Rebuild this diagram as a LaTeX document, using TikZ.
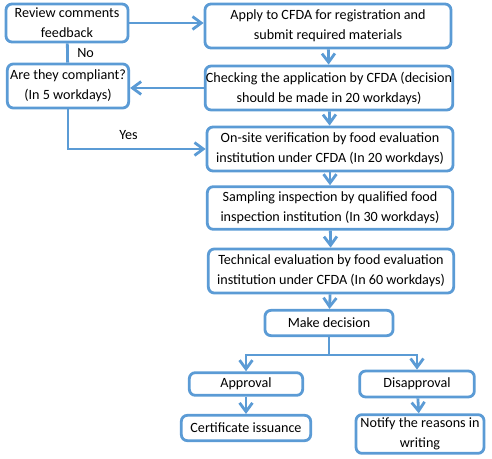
\documentclass[tikz,border=0pt]{standalone}
\usepackage{fontspec}
\setmainfont{Carlito}
\usetikzlibrary{arrows.meta,positioning}
\definecolor{flowblue}{RGB}{91,155,213}

\begin{document}
\begin{tikzpicture}[
  x=0.75pt, y=-0.75pt,
  >={Straight Barb[length=2.3mm,width=3.4mm]},
  box/.style   = {
    draw=flowblue, line width=2.1pt,
    rounded corners=4.5pt,
    align=center,
    inner sep=0.5pt,
    font=\fontsize{10.6}{15}\selectfont
  },
  link/.style  = {draw=flowblue, line width=2.1pt},
  label/.style = {font=\fontsize{10.6}{13}\selectfont}
]

% ---- frame ----
\useasboundingbox (0,0) rectangle (492,459);

% ---- nodes (pixel grid of the page) ----
\node[box, minimum width=91.5pt, minimum height=28.5pt] (rev) at (67,23)
  {Review comments\\feedback};
\node[box, minimum width=184.5pt, minimum height=33pt] (app) at (328,26)
  {Apply to CFDA for registration and\\submit required materials};
\node[box, minimum width=91pt, minimum height=33pt] (cmp) at (68,86)
  {Are they compliant?\\(In 5 workdays)};
\node[box, minimum width=184.5pt, minimum height=33pt] (chk) at (329,88)
  {Checking the application by CFDA (decision\\should be made in 20 workdays)};
\node[box, minimum width=184.5pt, minimum height=33pt] (ons) at (330,149)
  {On-site verification by food evaluation\\institution under CFDA (In 20 workdays)};
\node[box, minimum width=184pt, minimum height=32pt] (smp) at (330,208)
  {Sampling inspection by qualified food\\inspection institution (In 30 workdays)};
\node[box, minimum width=184pt, minimum height=33pt] (tec) at (331,271)
  {Technical evaluation by food evaluation\\institution under CFDA (In 60 workdays)};
\node[box, minimum width=96pt, minimum height=19pt] (dec) at (329,323)
  {Make decision};
\node[box, minimum width=85pt, minimum height=17pt] (apr) at (246,384)
  {Approval};
\node[box, minimum width=86pt, minimum height=19.5pt] (dis) at (417,384)
  {Disapproval};
\node[box, minimum width=97pt, minimum height=19pt] (cer) at (246,428)
  {Certificate issuance};
\node[box, minimum width=96pt, minimum height=29pt] (ntf) at (420,434)
  {Notify the reasons in\\writing};

% ---- connectors ----
\draw[link,->] (rev.east) -- (rev.east -| app.west);
\draw[link,->] (app) -- (chk);
\draw[link,->] (chk.west) -- (chk.west -| cmp.east);
\draw[link] (cmp) -- node[label,right=3pt] {No} (rev);
\draw[link,->] (cmp.south) |- node[label,pos=0.72,above=3pt] {Yes} (ons.west);
\draw[link,->] (chk) -- (ons);
\draw[link,->] (ons) -- (smp);
\draw[link,->] (smp) -- (tec);
\draw[link,->] (tec) -- (dec);

% ---- branch ----
\coordinate (split) at ([yshift=-13.5pt]dec.south);
\draw[link] (dec.south) -- (split);
\draw[link,->] (split) -| (apr.north);
\draw[link,->] (split) -| (dis.north);
\draw[link,->] (apr) -- (cer);
\draw[link,->] (dis) -- (ntf);

\end{tikzpicture}
\end{document}
